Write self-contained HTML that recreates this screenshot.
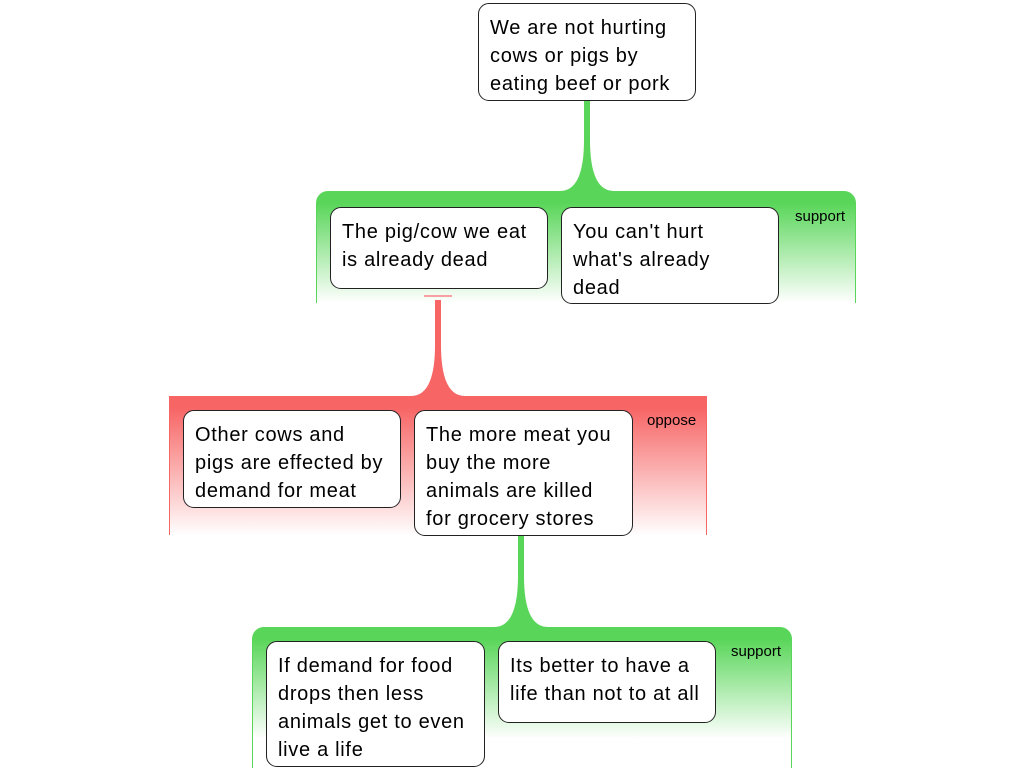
<!DOCTYPE html>
<html><head><meta charset="utf-8"><style>
body{margin:0;width:1024px;height:768px;background:#fff;position:relative;overflow:hidden;font-family:"Liberation Sans",sans-serif}
.g{position:absolute;border-radius:12px 12px 0 0}
.sup{background:linear-gradient(#59d659 0,#59d659 12px,#fff 112px);border-left:1px solid #59d659;border-right:1px solid #59d659}
.opp{background:linear-gradient(#f76565 0,#f76565 12px,#fff 140px);border-left:1px solid #f76565;border-right:1px solid #f76565;border-radius:0}
.b{position:absolute;box-sizing:border-box;background:#fff;border:1px solid #222;border-radius:11px;padding:10px 11px;font-size:20px;line-height:28px;color:#000;white-space:nowrap;letter-spacing:0.7px}
.l{position:absolute;font-size:15px;color:#000}
svg{position:absolute;left:0;top:0}
</style></head><body>
<div class="g sup" style="left:316px;top:191px;width:538px;height:112px"></div>
<div class="g opp" style="left:169px;top:396px;width:536px;height:139px"></div>
<div class="g sup" style="left:252px;top:627px;width:538px;height:141px"></div>
<svg width="1024" height="768">
<path d="M584,100 L584,140 Q584,191 560,191 L614,191 Q590,191 590,140 L590,100 Z" fill="#59d659"/>
<path d="M435,300 L435,345 Q435,396 411,396 L465,396 Q441,396 441,345 L441,300 Z" fill="#f76565"/>
<rect x="424" y="295" width="28" height="2" fill="#f9a0a0"/>
<path d="M518,535 L518,576 Q518,627 494,627 L548,627 Q524,627 524,576 L524,535 Z" fill="#59d659"/>
</svg>
<div class="l" style="left:795px;top:208px">support</div>
<div class="l" style="left:647px;top:412px">oppose</div>
<div class="l" style="left:731px;top:643px">support</div>
<div class="b" style="left:478px;top:3px;width:218px;height:98px">We are not hurting<br>cows or pigs by<br>eating beef or pork</div>
<div class="b" style="left:330px;top:207px;width:218px;height:82px">The pig/cow we eat<br>is already dead</div>
<div class="b" style="left:561px;top:207px;width:218px;height:97px">You can't hurt<br>what's already<br>dead</div>
<div class="b" style="left:183px;top:410px;width:218px;height:98px">Other cows and<br>pigs are effected by<br>demand for meat</div>
<div class="b" style="left:414px;top:410px;width:219px;height:126px">The more meat you<br>buy the more<br>animals are killed<br>for grocery stores</div>
<div class="b" style="left:266px;top:641px;width:219px;height:126px">If demand for food<br>drops then less<br>animals get to even<br>live a life</div>
<div class="b" style="left:498px;top:641px;width:218px;height:82px">Its better to have a<br>life than not to at all</div>
</body></html>
